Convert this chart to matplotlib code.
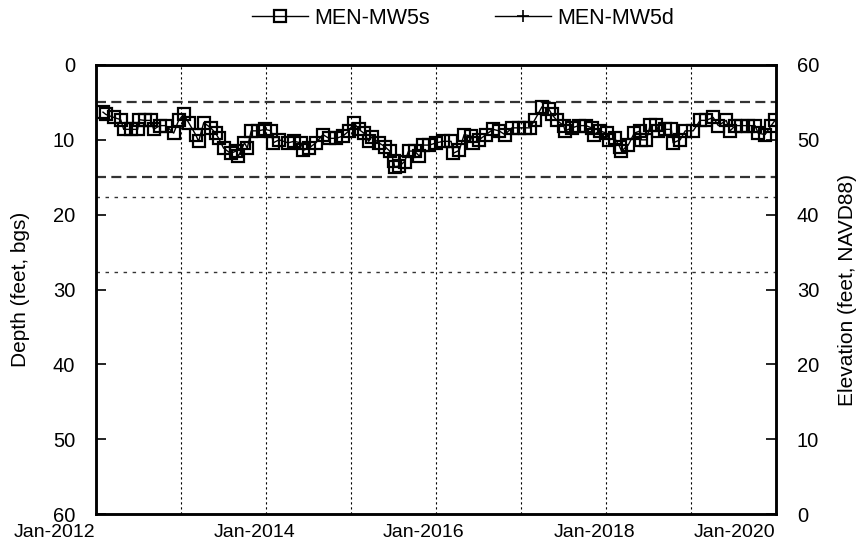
import matplotlib
matplotlib.use("Agg")
import matplotlib.pyplot as plt
import matplotlib.transforms as mtransforms
import pandas as pd

plt.rcParams['font.family'] = ['Liberation Sans', 'DejaVu Sans']

# MEN-MW5s depth to water (feet bgs)
mw5s_dates = [
    "2012-01-31", "2012-02-12", "2012-03-17", "2012-04-16", "2012-04-29", "2012-05-29",
    "2012-06-28", "2012-07-03", "2012-07-28", "2012-08-23", "2012-09-05", "2012-10-01",
    "2012-10-27", "2012-11-30", "2012-12-21", "2013-01-11", "2013-02-02", "2013-03-04",
    "2013-03-17", "2013-04-08", "2013-05-08", "2013-05-29", "2013-06-11", "2013-07-02",
    "2013-08-01", "2013-08-26", "2013-09-04", "2013-09-30", "2013-10-12", "2013-10-29",
    "2013-11-28", "2013-12-28", "2014-01-23", "2014-01-31", "2014-02-26", "2014-04-05",
    "2014-05-01", "2014-05-31", "2014-06-09", "2014-07-04", "2014-08-03", "2014-09-02",
    "2014-09-28", "2014-10-28", "2014-11-27", "2014-12-23", "2015-01-13", "2015-02-03",
    "2015-02-25", "2015-03-18", "2015-03-31", "2015-04-30", "2015-05-26", "2015-06-16",
    "2015-07-03", "2015-07-07", "2015-07-28", "2015-08-19", "2015-09-05", "2015-10-01",
    "2015-10-22", "2015-11-08", "2015-12-04", "2016-01-02", "2016-02-01", "2016-03-06",
    "2016-03-15", "2016-04-10", "2016-05-01", "2016-05-31", "2016-06-09", "2016-07-04",
    "2016-08-03", "2016-09-02", "2016-09-28", "2016-10-23", "2016-11-22", "2016-12-22",
    "2017-01-17", "2017-02-08", "2017-03-01", "2017-03-31", "2017-04-30", "2017-05-13",
    "2017-06-03", "2017-07-03", "2017-07-08", "2017-08-07", "2017-09-06", "2017-10-06",
    "2017-10-31", "2017-11-09", "2017-12-04", "2018-01-03", "2018-01-12", "2018-02-07",
    "2018-02-28", "2018-03-08", "2018-04-06", "2018-05-02", "2018-05-28", "2018-06-01",
    "2018-06-23", "2018-07-10", "2018-08-05", "2018-08-13", "2018-09-12", "2018-10-08",
    "2018-10-16", "2018-11-15", "2018-12-07", "2019-01-10", "2019-02-09", "2019-03-07",
    "2019-04-06", "2019-04-28", "2019-06-01", "2019-06-18", "2019-07-09", "2019-08-04",
    "2019-09-03", "2019-10-03", "2019-10-16", "2019-11-15", "2019-12-11", "2019-12-28",
]
mw5s_depth = [
    6.3, 6.6, 7.0, 7.3, 8.6, 8.6,
    8.6, 7.3, 7.4, 7.4, 8.6, 8.1,
    8.1, 9.1, 7.4, 6.6, 7.7, 9.3,
    10.2, 7.7, 8.4, 9.1, 9.8, 11.1,
    11.8, 11.5, 12.2, 10.4, 11.1, 8.8,
    8.8, 8.6, 8.8, 10.4, 10.0, 10.4,
    10.2, 10.4, 11.4, 11.1, 10.4, 9.3,
    9.8, 9.8, 9.5, 8.8, 7.7, 8.6,
    9.1, 10.2, 9.6, 10.4, 10.9, 11.5,
    12.8, 13.6, 13.5, 12.9, 11.5, 11.5,
    12.2, 10.7, 10.7, 10.4, 10.2, 10.2,
    11.8, 11.4, 9.3, 9.5, 10.4, 10.0,
    9.3, 8.6, 8.8, 9.3, 8.4, 8.4,
    8.4, 8.4, 7.3, 5.6, 5.9, 6.6,
    7.4, 8.1, 8.8, 8.4, 8.1, 8.1,
    8.4, 9.3, 8.8, 9.1, 10.0, 9.8,
    10.9, 11.5, 10.7, 9.1, 8.8, 10.0,
    10.0, 8.0, 8.0, 8.8, 8.6, 8.6,
    10.4, 10.0, 8.8, 8.8, 7.4, 7.4,
    7.0, 8.1, 7.4, 8.8, 8.1, 8.1,
    8.1, 8.1, 9.1, 9.3, 8.1, 7.4,
]

# MEN-MW5d (no visible data in the plotted window)
mw5d_dates = []
mw5d_depth = []

# reference lines (depth, feet bgs)
dashed_levels = [5.0, 15.0]
dotted_levels = [17.6, 27.7]

x_tick_labels = ["Jan-2012", "Jan-2014", "Jan-2016", "Jan-2018", "Jan-2020"]
left_ticks = [0, 10, 20, 30, 40, 50, 60]
right_ticks = [0, 10, 20, 30, 40, 50, 60]

W, H = 867, 548
fig = plt.figure(figsize=(W / 100, H / 100), dpi=100)
L, R, T, B = 96, 776, 65, 514
ax = fig.add_axes([L / W, 1 - B / H, (R - L) / W, (B - T) / H])

d5s = pd.to_datetime(mw5s_dates)
d5d = pd.to_datetime(mw5d_dates)

xmin = pd.Timestamp("2012-01-01")
xmax = pd.Timestamp("2020-01-01")

for lv in dashed_levels:
    ax.plot([xmin, xmax], [lv, lv], color="#333333", lw=1.6, ls=(0, (4.5, 2.4)), zorder=2)
for lv in dotted_levels:
    ax.plot([xmin, xmax], [lv, lv], color="#333333", lw=1.0, ls=(0, (2.5, 4)), zorder=2)

ax.plot(d5s, mw5s_depth, color="black", lw=1.0, marker="s", ms=8,
        mfc="none", mec="black", mew=1.6, label="MEN-MW5s", zorder=4)
ax.plot(d5d, mw5d_depth, color="black", lw=1.0, marker="+", ms=9,
        mew=1.2, label="MEN-MW5d", zorder=3)

ax.set_xlim(xmin, xmax)
ax.set_ylim(60, 0)

# yearly dotted gridlines
years = [pd.Timestamp(f"{y}-01-01") for y in range(2013, 2020)]
for yr in years:
    ax.axvline(yr, color="black", lw=0.8, ls=(0, (2, 2.5)), zorder=1)

ax.set_xticks([pd.Timestamp(s.replace("Jan-", "") + "-01-01") for s in x_tick_labels])
ax.set_xticklabels(x_tick_labels)
ax.tick_params(axis="x", length=0, pad=7.5, labelsize=14)

# label placement as in the reference (ends flush right to tick, middle shifted left)
xlabels = ax.get_xticklabels()
n = len(xlabels)
for i, lab in enumerate(xlabels):
    if i == 0 or i == n - 1:
        lab.set_horizontalalignment("right")
        dx = -1
    else:
        dx = -12
    lab.set_transform(lab.get_transform() +
                      mtransforms.ScaledTranslation(dx / 100, 0, fig.dpi_scale_trans))

ax.set_yticks(left_ticks)
ax.tick_params(axis="y", direction="in", length=7, width=1.2, pad=15, labelsize=14.5)
ax.set_ylabel("Depth (feet, bgs)", fontsize=15)
ax.yaxis.set_label_coords((30 - L) / (R - L), 0.5)

ax2 = ax.twinx()
ax2.set_ylim(0, 60)
ax2.set_yticks(right_ticks)
ax2.tick_params(axis="y", direction="in", length=7, width=1.2, pad=15, labelsize=14.5)
ax2.set_ylabel("Elevation (feet, NAVD88)", fontsize=15)
ax2.yaxis.set_label_coords((838 - L) / (R - L), 0.5)

for a in (ax, ax2):
    for s in a.spines.values():
        s.set_linewidth(1.8)
        s.set_color("black")

leg = fig.legend(loc="center", bbox_to_anchor=(463 / W, 1 - 18 / H), ncol=2, frameon=False,
                 fontsize=15.5, handlelength=2.6, columnspacing=3.0, handletextpad=0.3)

fig.savefig("out.png", dpi=100)
